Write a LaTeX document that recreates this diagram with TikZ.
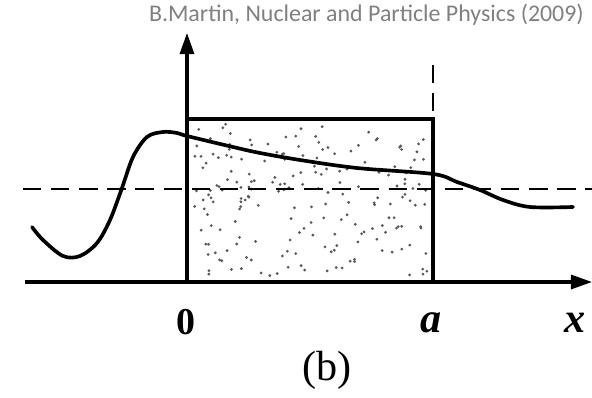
\documentclass[tikz,border=0pt]{standalone}
\usepackage{fontspec}
\setmainfont{Liberation Serif}
\newfontfamily\sourcefont{Carlito}
\usetikzlibrary{arrows.meta}
\definecolor{sourcegray}{RGB}{128,128,128}

\begin{document}
\begin{tikzpicture}[
    x=0.025cm, y=-0.025cm,
    axis/.style={line width=2.2pt, -{Triangle[length=15pt, width=10pt]}},
    edge/.style={line width=2.2pt},
    guide/.style={line width=2pt, dash pattern=on 13pt off 7pt},
    wave/.style={line width=2.6pt, line cap=round, line join=round},
    speck/.style={fill=black!65},
    ticklabel/.style={font=\fontsize{27}{27}\selectfont\bfseries},
    varlabel/.style={font=\fontsize{30}{30}\selectfont\bfseries\itshape},
    caption/.style={font=\fontsize{30}{30}\selectfont}
  ]
  \useasboundingbox (0,0) rectangle (592,398);

  \node[anchor=east, text=sourcegray, font=\sourcefont\fontsize{17}{20}\selectfont, inner sep=0pt]
    (source) at (584,15) {B.Martin, Nuclear and Particle Physics (2009)};

  \coordinate (origin) at (187,282);
  \coordinate (ytip) at (187,33);
  \coordinate (xstart) at (25,282);
  \coordinate (xtip) at (592,282);
  \coordinate (boxtl) at (187,119);
  \coordinate (boxtr) at (433,119);
  \coordinate (boxbr) at (433,282);
  \coordinate (walltop) at (433,65);
  \coordinate (levelL) at (23,189);
  \coordinate (levelR) at (592,189);

  \pgfmathsetseed{42}
  \foreach \k in {1,...,200}{
    \pgfmathsetmacro{\px}{193+rnd*234}
    \pgfmathsetmacro{\py}{124+rnd*152}
    \fill[speck] (\px,\py) circle[radius=1.1pt];
  }

  \draw[guide] (levelL) -- (levelR);
  \draw[guide] (walltop) -- (boxtr);
  \draw[edge] (boxtl) -- (boxtr) -- (boxbr);
  \draw[axis] (xstart) -- (xtip);
  \draw[axis] (origin) -- (ytip);

  \draw[wave] plot[smooth, tension=0.55] coordinates {
    (32,227) (43,240) (63,256) (80,256) (97,243) (110,220) (122,188)
    (133,157) (147,137) (163,132) (177,133) (187,136) (233,147)
    (260,153) (300,160) (357,168) (433,174) (457,182) (480,190)
    (503,200) (530,207) (573,207)};

  \node[ticklabel] (zero) at (186,322) {0};
  \node[varlabel] (wallpos) at (431,323) {a};
  \node[varlabel] (xname) at (575,323) {x};
  \node[caption] (panel) at (327,370) {(b)};
\end{tikzpicture}
\end{document}
